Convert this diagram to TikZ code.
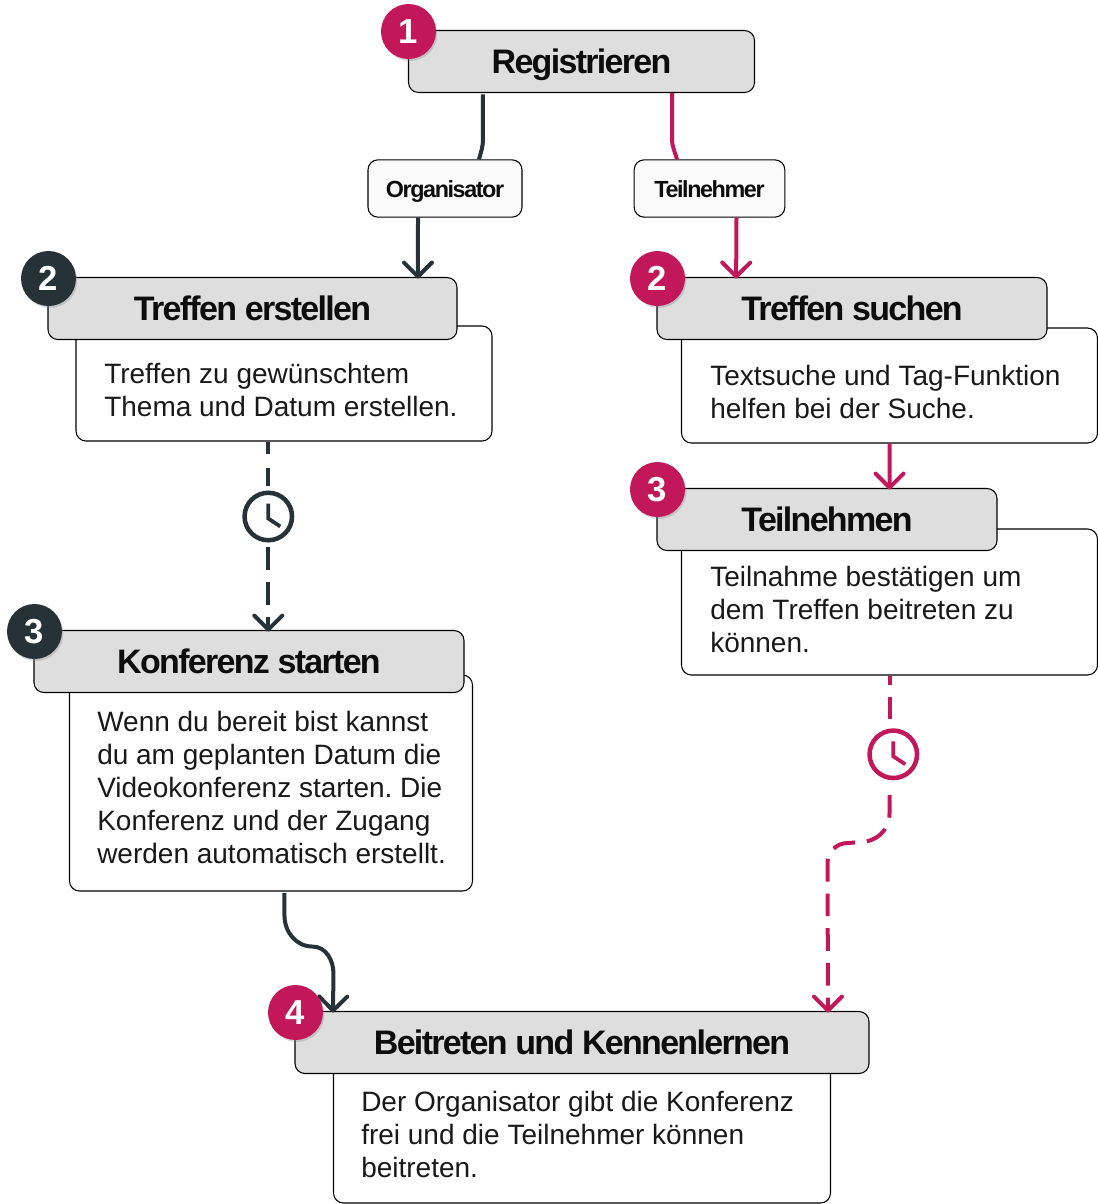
\documentclass[tikz,border=0pt]{standalone}
\usepackage{fontspec}
\setmainfont{Liberation Sans}
\newfontfamily\headfont[LetterSpace=-5]{Liberation Sans}
\newfontfamily\rolefont[LetterSpace=-6]{Liberation Sans}
\usetikzlibrary{arrows.meta,shadows}
\definecolor{slate}{HTML}{263238}
\definecolor{berry}{HTML}{C2185B}
\tikzset{
    box/.style={draw=black, line width=0.8pt, rounded corners=7.5pt},
    headbox/.style={box, fill=black!13, text=black!95, inner ysep=0pt,
        font=\headfont\bfseries\fontsize{25.5}{30}\selectfont, text height=23.5pt, text depth=5pt},
    bodybox/.style={box, fill=white},
    rolebox/.style={box, fill=black!2, text=black!95, inner ysep=0pt,
        font=\rolefont\bfseries\fontsize{17.5}{21}\selectfont, text height=17.5pt, text depth=4pt},
    bodytext/.style={anchor=west, align=left, inner sep=0pt, text=black!90,
        font=\frenchspacing\fontsize{21}{24.75}\selectfont},
    badge/.style={circle, fill=#1, text=white, minimum size=41.25pt, inner sep=0pt,
        font=\bfseries\fontsize{26}{30}\selectfont,
        drop shadow={shadow xshift=1pt, shadow yshift=-1.5pt, opacity=.3}},
    clock/.style={circle, draw=#1, line width=3.4pt, minimum size=35.6pt, inner sep=0pt, outer sep=5.25pt},
    hands/.style={line width=2.8pt},
    plainline/.style={line width=3pt},
    solidline/.style={plainline, shorten >=-1.2pt, -{Straight Barb[length=10.5pt,width=21pt,round]}},
    dashline/.style={solidline, dash pattern=on 17pt off 9pt}
}
\begin{document}
\begin{tikzpicture}[x=0.75pt, y=-0.75pt]
    \useasboundingbox (0,0) rectangle (1098,1204);
    % bodies first, the grey heads lie over them
    \foreach \name/\x/\y/\w/\h in {bodyCreate/284/383.5/416/115, bodySearch/889.5/385.5/416/115,
        bodyTake/889.5/602/416/146, bodyStart/271/783/403/216, bodyJoin/582/1131/497/144} {
        \node[bodybox, minimum width=\w*0.75pt, minimum height=\h*0.75pt] (\name) at (\x,\y) {};
    }
    \foreach \name/\x/\y/\w/\txt in {headCreate/252.5/308.5/409/Treffen erstellen,
        headSearch/852/308.5/390/Treffen suchen, headTake/827/519.5/340/Teilnehmen,
        headStart/249/661.5/430/Konferenz starten, headJoin/582/1042.5/574/Beitreten und Kennenlernen,
        headReg/581.5/61.5/346/Registrieren} {
        \node[headbox, minimum width=\w*0.75pt, minimum height=46.5pt] (\name) at (\x,\y) {\txt};
    }
    \node[rolebox, minimum width=115.5pt, minimum height=43pt] (roleOrg) at (445,188.5) {Organisator};
    \node[rolebox, minimum width=113pt, minimum height=43pt] (roleTln) at (709.5,188.5) {Teilnehmer};

    \node[bodytext] (textCreate) at (104,389.5) {Treffen zu gewünschtem\\Thema und Datum erstellen.};
    \node[bodytext] (textSearch) at (710,391.5) {Textsuche und Tag-Funktion\\helfen bei der Suche.};
    \node[bodytext] (textTake) at (710,609) {Teilnahme bestätigen um\\dem Treffen beitreten zu\\können.};
    \node[bodytext] (textStart) at (97,787) {Wenn du bereit bist kannst\\du am geplanten Datum die\\Videokonferenz starten. Die\\Konferenz und der Zugang\\werden automatisch erstellt.};
    \node[bodytext] (textJoin) at (361,1134) {Der Organisator gibt die Konferenz\\frei und die Teilnehmer können\\beitreten.};

    % clocks
    \node[clock=slate] (clockA) at (268.3,516.5) {};
    \node[clock=berry] (clockB) at (893.3,754.3) {};
    \draw[hands, slate] ([shift={(0,-13)}]clockA.center) -- ([shift={(0,2)}]clockA.center) -- ([shift={(12,10)}]clockA.center);
    \draw[hands, berry] ([shift={(0,-13)}]clockB.center) -- ([shift={(0,2)}]clockB.center) -- ([shift={(12,10)}]clockB.center);

    % left branch
    \draw[slate, plainline, shorten <=1pt] ([xshift=-73.9pt]headReg.south) -- ++(0,46) to[out=-90,in=75] ([xshift=25.5pt]roleOrg.north);
    \draw[slate, solidline] ([xshift=-20.25pt]roleOrg.south) -- ([xshift=124.1pt]headCreate.north);
    \draw[slate, plainline, dash pattern=on 13.5pt off 10pt] (clockA.north) -- (clockA.north |- bodyCreate.south);
    \draw[slate, dashline] (clockA.south) -- (clockA.south |- headStart.north);
    \draw[slate, solidline, shorten <=1pt] ([xshift=10.1pt]bodyStart.south) -- ++(0,24) to[out=-90,in=180] ++(28,31) to[out=0,in=90] ++(21,27) -- ([xshift=-186.75pt]headJoin.north);

    % right branch
    \draw[berry, plainline] ([xshift=67.9pt]headReg.south) -- ++(0,46) to[out=-90,in=105] ([xshift=-24.4pt]roleTln.north);
    \draw[berry, solidline] ([xshift=20.25pt]roleTln.south) -- ([xshift=-86.9pt]headSearch.north);
    \draw[berry, solidline] (bodySearch.south) -- ([xshift=46.9pt]headTake.north);
    \draw[berry, plainline, dash pattern=on 16.5pt off 8.5pt] ([shift={(-3.8,-5)}]clockB.north) -- (bodyTake.south);
    \draw[berry, dashline] ([shift={(-3.8,10)}]clockB.south) -- ++(0,19) to[out=-90,in=0] ++(-29,28) -- ++(-13,1) to[out=180,in=90] ++(-20,20) -- ([xshift=184.5pt]headJoin.north);

    % numbered badges
    \foreach \name/\x/\y/\col/\n in {badgeReg/408.5/31.5/berry/1, badgeCreate/48.5/278.5/slate/2,
        badgeSearch/657.5/278.5/berry/2, badgeTake/657.5/489.5/berry/3,
        badgeStart/34.5/631.5/slate/3, badgeJoin/295.5/1012.5/berry/4} {
        \node[badge=\col] (\name) at (\x,\y) {\n};
    }
\end{tikzpicture}
\end{document}
